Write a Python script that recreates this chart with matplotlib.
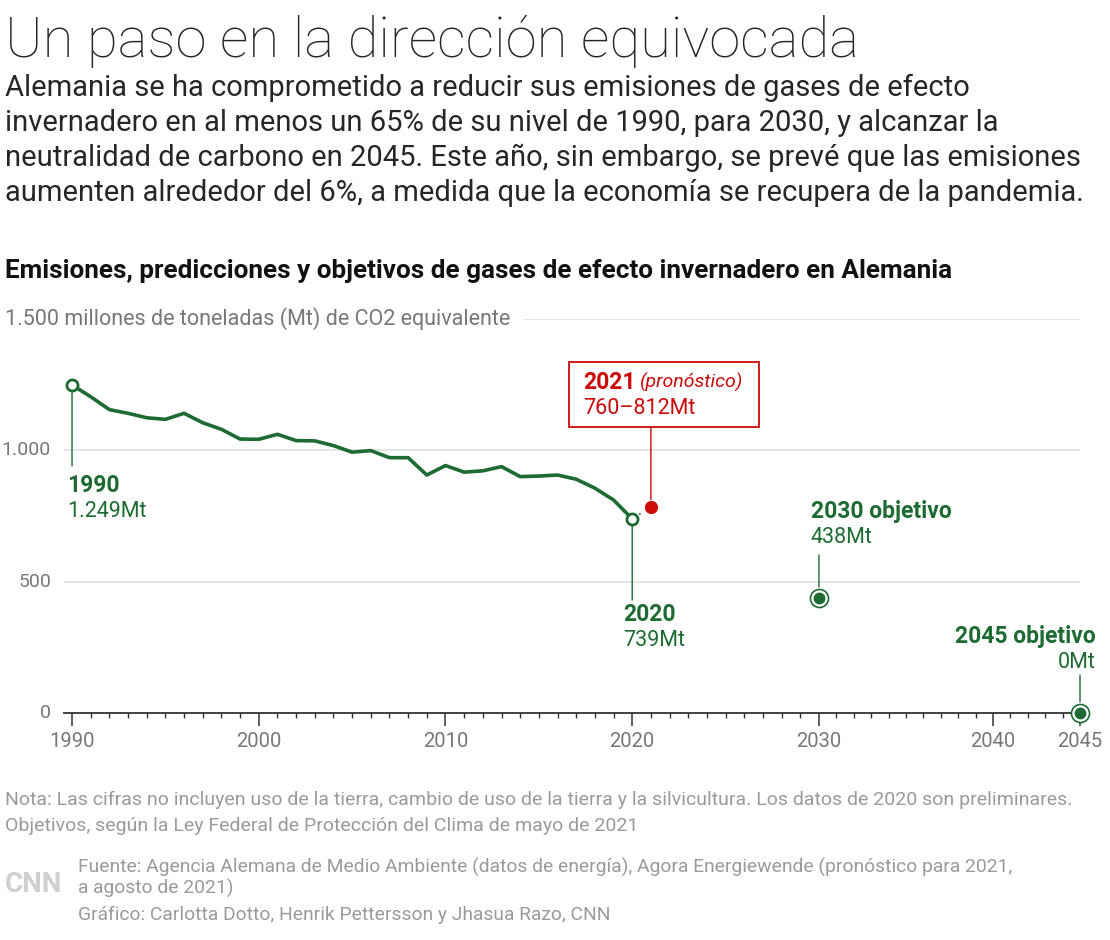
import numpy as np
import matplotlib
matplotlib.use("Agg")
import matplotlib.pyplot as plt
from matplotlib.patches import Rectangle
from matplotlib.transforms import ScaledTranslation, blended_transform_factory

plt.rcParams['font.family'] = ['Roboto', 'DejaVu Sans']

# emissions, Mt CO2 equivalent
years = list(range(1990, 2021))
emissions = [1249, 1204, 1155, 1141, 1124, 1118, 1141, 1105, 1080, 1043,
             1042, 1061, 1037, 1036, 1018, 993, 999, 972, 972, 906,
             942, 917, 922, 938, 900, 902, 906, 890, 856, 811, 739]
forecast_year = 2021
forecast_value = 786
forecast_range = "760–812Mt"
target_years = [2030, 2045]
target_values = [438, 0]
yticks = [0, 500, 1000]
ytick_labels = ["0", "500", "1.000"]
xticks_major = [1990, 2000, 2010, 2020, 2030, 2040, 2045]

GREEN = "#1d6b33"
RED = "#cc0a0a"
GRAY = "#777777"
LIGHT = "#9a9a9a"

title = "Un paso en la dirección equivocada"
subtitle = ["Alemania se ha comprometido a reducir sus emisiones de gases de efecto",
            "invernadero en al menos un 65% de su nivel de 1990, para 2030, y alcanzar la",
            "neutralidad de carbono en 2045. Este año, sin embargo, se prevé que las emisiones",
            "aumenten alrededor del 6%, a medida que la economía se recupera de la pandemia."]
heading = "Emisiones, predicciones y objetivos de gases de efecto invernadero en Alemania"
unit_label = "1.500 millones de toneladas (Mt) de CO2 equivalente"
notes = ["Nota: Las cifras no incluyen uso de la tierra, cambio de uso de la tierra y la silvicultura. Los datos de 2020 son preliminares.",
         "Objetivos, según la Ley Federal de Protección del Clima de mayo de 2021"]
source = ["Fuente: Agencia Alemana de Medio Ambiente (datos de energía), Agora Energiewende (pronóstico para 2021,",
          "a agosto de 2021)",
          "Gráfico: Carlotta Dotto, Henrik Pettersson y Jhasua Razo, CNN"]

W, H = 1110, 940
fig = plt.figure(figsize=(W / 100, H / 100), dpi=100)
ax = fig.add_axes([64 / W, 1 - 713 / H, (1080 - 64) / W, (713 - 319) / H])


# the original axis is a bit squeezed after 2030
def fwd(x):
    x = np.asarray(x, dtype=float)
    return np.where(x <= 2030, x - 1990, 40 + (x - 2030) * 0.932)


def inv(u):
    u = np.asarray(u, dtype=float)
    return np.where(u <= 40, u + 1990, 2030 + (u - 40) / 0.932)


ax.set_xscale('function', functions=(fwd, inv))
ax.set_xlim(1989.57, 2045)
ax.set_ylim(0, 1500)

for s in ['top', 'right', 'left']:
    ax.spines[s].set_visible(False)
ax.spines['bottom'].set_color('#333333')
ax.spines['bottom'].set_linewidth(1.3)

ax.set_xticks(xticks_major)
ax.set_xticks(range(1990, 2046), minor=True)
ax.tick_params(axis='x', which='major', length=9.5, width=1.1, color='#333333',
               labelsize=14.5, labelcolor=GRAY, pad=4)
ax.tick_params(axis='x', which='minor', length=3.8, width=1.0, color='#333333')
ax.set_yticks([])

for v in yticks[1:] + [1500]:
    ax.axhline(v, color='#dddddd', lw=1.1, zorder=0)

tr = blended_transform_factory(fig.transFigure, ax.transData)
for v, lab in zip(yticks, ytick_labels):
    ax.text(51 / W, v, lab, transform=tr, ha='right', va='center',
            fontsize=14, color=GRAY)
ax.text(5 / W, 1500, unit_label + "  ", transform=tr, ha='left', va='center',
        fontsize=15.5, color=GRAY,
        bbox=dict(facecolor='white', edgecolor='none', pad=2))

# historic line
ax.plot(years, emissions, color=GREEN, lw=2.6, solid_joinstyle='round', zorder=3)
ax.plot([years[-1], forecast_year], [emissions[-1], forecast_value],
        color=GREEN, lw=1.2, ls=(0, (1, 4)), zorder=2)
ax.plot([years[0], years[-1]], [emissions[0], emissions[-1]], 'o', ms=8,
        mfc='white', mec=GREEN, mew=2, zorder=5, clip_on=False)
ax.plot(forecast_year, forecast_value, 'o', ms=8.5, color=RED, zorder=5)
ax.plot(target_years, target_values, 'o', ms=13, mfc='white', mec=GREEN,
        mew=1.2, zorder=5, clip_on=False)
ax.plot(target_years, target_values, 'o', ms=7.5, color=GREEN, zorder=6,
        clip_on=False)


def off(x, y):
    # offset in pixels from a data point
    return fig.dpi_scale_trans + ScaledTranslation(x, y, ax.transData)


def leader(x, y, dy, color, r):
    ax.annotate("", xy=(x, y), xytext=(0, dy), textcoords='offset pixels',
                arrowprops=dict(arrowstyle='-', color=color, lw=1.0,
                                shrinkA=0, shrinkB=r), zorder=4)


def label(x, y, dx, dy, bold, normal, color, ha='left'):
    ax.text(dx / 100, dy / 100, bold, transform=off(x, y), ha=ha, va='center',
            fontsize=16.5, fontweight='bold', color=color)
    ax.text(dx / 100, (dy - 26) / 100, normal, transform=off(x, y), ha=ha,
            va='center', fontsize=15.5, color=color)


leader(years[0], emissions[0], -81, GREEN, 5)
label(years[0], emissions[0], -5, -101, str(years[0]),
      f"{emissions[0]:,}Mt".replace(",", "."), GREEN)
leader(years[-1], emissions[-1], -81, GREEN, 5)
label(years[-1], emissions[-1], -9, -96, str(years[-1]),
      f"{emissions[-1]}Mt", GREEN)
leader(target_years[0], target_values[0], 43, GREEN, 8)
label(target_years[0], target_values[0], -8, 86, f"{target_years[0]} objetivo",
      f"{target_values[0]}Mt", GREEN)
leader(target_years[1], target_values[1], 38, GREEN, 8)
label(target_years[1], target_values[1], 16, 77, f"{target_years[1]} objetivo",
      f"{target_values[1]}Mt", GREEN, ha='right')

# forecast box
leader(forecast_year, forecast_value, 80, RED, 5)
ax.add_patch(Rectangle((-82 / 100, 80 / 100), 190 / 100, 65 / 100,
                       transform=off(forecast_year, forecast_value),
                       facecolor='white', edgecolor=RED, lw=1.3,
                       clip_on=False, zorder=6))
ax.text(-68 / 100, 124 / 100, str(forecast_year),
        transform=off(forecast_year, forecast_value), ha='left', va='center',
        fontsize=16.5, fontweight='bold', color=RED, zorder=7)
ax.text(-11 / 100, 124 / 100, "(pronóstico)",
        transform=off(forecast_year, forecast_value), ha='left', va='center',
        fontsize=14, style='italic', color=RED, zorder=7)
ax.text(-68 / 100, 98 / 100, forecast_range,
        transform=off(forecast_year, forecast_value), ha='left', va='center',
        fontsize=15.5, color=RED, zorder=7)

# header
fig.text(5 / W, 1 - 41 / H, title, fontsize=40.5, fontweight='light',
         color='#262626', ha='left', va='center')
for i, line in enumerate(subtitle):
    fig.text(5 / W, 1 - (88 + 35 * i) / H, line, fontsize=21,
             color='#262626', ha='left', va='center')
fig.text(5 / W, 1 - 271 / H, heading, fontsize=18.8, fontweight='bold',
         color='#111111', ha='left', va='center')

# footer
for i, line in enumerate(notes):
    fig.text(5 / W, 1 - (800 + 26 * i) / H, line, fontsize=14,
             color=LIGHT, ha='left', va='center')
for line, yy in zip(source, [867, 888, 915]):
    fig.text(78 / W, 1 - yy / H, line, fontsize=13.9, color=LIGHT,
             ha='left', va='center')
fig.text(34 / W, 1 - 885 / H, "CNN", fontsize=20, fontweight='bold',
         color='#d0d0d0', ha='center', va='center')

fig.savefig("out.png", dpi=100)
